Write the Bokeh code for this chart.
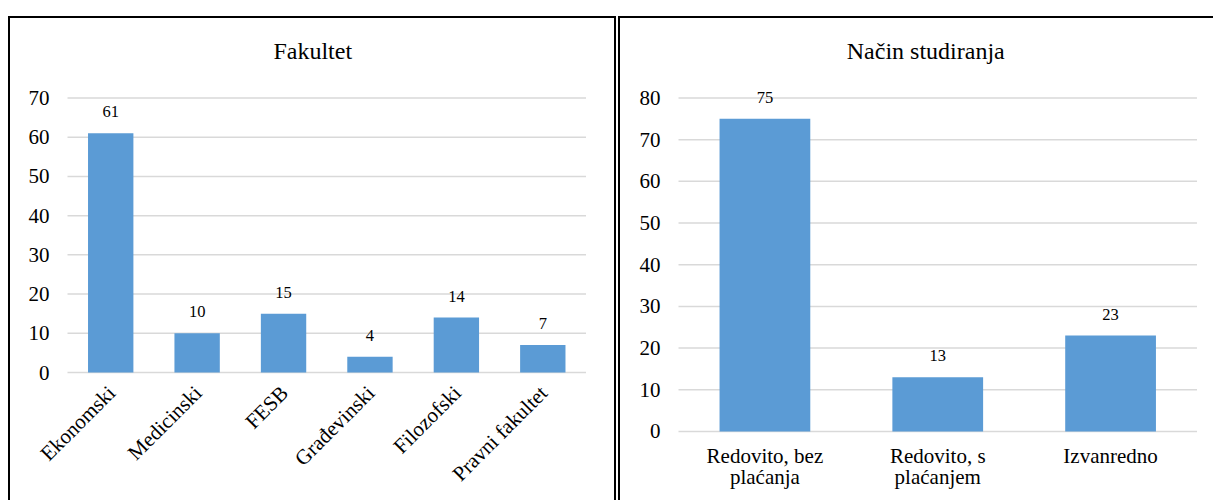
import math
from bokeh.plotting import figure
from bokeh.models import ColumnDataSource, LabelSet, Label, Range1d, Spacer
from bokeh.layouts import row, column
from bokeh.embed import file_html
from bokeh.resources import INLINE
from bokeh.core.properties import value

# ---- data ----
fak_title = "Fakultet"
fak_categories = ["Ekonomski", "Medicinski", "FESB", "Građevinski", "Filozofski", "Pravni fakultet"]
fak_values = [61, 10, 15, 4, 14, 7]
fak_yticks = [0, 10, 20, 30, 40, 50, 60, 70]

nacin_title = "Način studiranja"
nacin_categories = ["Redovito, bez\nplaćanja", "Redovito, s\nplaćanjem", "Izvanredno"]
nacin_values = [75, 13, 23]
nacin_yticks = [0, 10, 20, 30, 40, 50, 60, 70, 80]

FONT = "'Liberation Serif', 'Times New Roman', serif"
BAR = "#5b9bd5"
GRID = "#d9d9d9"
TICK_SIZE = "21px"


def panel(title, cats, vals, yticks, xrange, yrange, width, height, title_dx, styles):
    n = len(cats)
    xs = [i + 0.5 for i in range(n)]          # category slot centres
    p = figure(x_range=Range1d(*xrange), y_range=Range1d(*yrange),
               width=width, height=height, output_backend="svg", toolbar_location=None,
               min_border_left=0, min_border_right=0, min_border_top=0, min_border_bottom=0)
    p.xaxis.visible = False
    p.yaxis.visible = False
    p.grid.visible = False
    p.outline_line_color = None
    # horizontal gridlines at the value ticks, spanning the category slots
    p.segment(x0=[0] * len(yticks), x1=[n] * len(yticks), y0=yticks, y1=yticks,
              line_color=GRID, line_width=1.5)
    src = ColumnDataSource(dict(x=xs, top=vals, lab=[str(v) for v in vals]))
    p.vbar(x="x", top="top", width=0.525, source=src, fill_color=BAR, line_color=None)
    p.add_layout(LabelSet(x="x", y="top", text="lab", source=src, text_align="center",
                          text_baseline="alphabetic", y_offset=16, text_font=value(FONT),
                          text_font_size=value("16.5px"), text_color="black"))
    # value-axis tick labels
    tsrc = ColumnDataSource(dict(x=[0] * len(yticks), y=yticks, t=[str(t) for t in yticks]))
    p.add_layout(LabelSet(x="x", y="y", text="t", source=tsrc, text_align="right",
                          text_baseline="middle", x_offset=-18, text_font=value(FONT),
                          text_font_size=value(TICK_SIZE), text_color="black"))
    p.add_layout(Label(x=n / 2, y=yticks[-1], text=title, x_offset=title_dx, y_offset=47,
                       text_align="center", text_baseline="alphabetic", text_font=FONT,
                       text_font_size="24px", text_color="black"))
    p.styles = styles
    return p, xs


# left panel: category labels rotated 45 degrees below the zero line
p1, xs1 = panel(fak_title, fak_categories, fak_values, fak_yticks,
                (-0.6596, 6.3760), (-33.15, 90.28), 608, 484, -14,
                {"border-top": "2px solid black", "border-left": "2px solid black",
                 "border-right": "2px solid black"})
cat1 = ColumnDataSource(dict(x=xs1, y=[0] * len(xs1), t=fak_categories))
p1.add_layout(LabelSet(x="x", y="y", text="t", source=cat1, angle=math.pi / 4,
                       text_align="right", text_baseline="middle", x_offset=1, y_offset=-17,
                       text_font=value(FONT), text_font_size=value(TICK_SIZE),
                       text_color="black"))

# right panel: two-line category labels centred under the bars
p2, xs2 = panel(nacin_title, nacin_categories, nacin_values, nacin_yticks,
                (-0.3356, 3.1071), (-17.03, 99.06), 595, 484, -12,
                {"border-top": "2px solid black", "border-left": "2px solid black"})
lines = [c.split("\n") + [""] for c in nacin_categories]
cat2 = ColumnDataSource(dict(x=xs2, y=[0] * len(xs2),
                             l1=[l[0] for l in lines], l2=[l[1] for l in lines]))
for col, off in (("l1", -32), ("l2", -53)):
    p2.add_layout(LabelSet(x="x", y="y", text=col, source=cat2, text_align="center",
                           text_baseline="alphabetic", y_offset=off,
                           text_font=value(FONT), text_font_size=value(TICK_SIZE),
                           text_color="black"))

layout = column(Spacer(height=16), row(Spacer(width=8), p1, Spacer(width=2), p2))
open("out.html", "w").write(file_html(layout, INLINE))
